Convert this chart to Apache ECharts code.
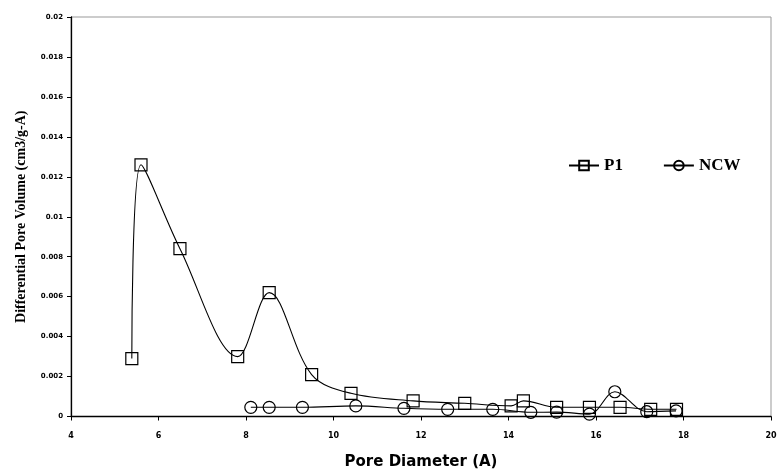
<!DOCTYPE html>
<html><head><meta charset="utf-8">
<script src="https://cdn.jsdelivr.net/npm/echarts@6/dist/echarts.min.js"></script>
<style>html,body{margin:0;padding:0;background:#fff}#c{width:783px;height:475px}</style>
</head><body><div id="c"></div>
<script>
const p1X = [5.39, 5.60, 6.49, 7.81, 8.53, 9.50, 10.40, 11.82, 13.00, 14.06, 14.34, 15.10, 15.85, 16.55, 17.25, 17.84];
const p1Y = [0.0029, 0.0126, 0.0084, 0.0030, 0.0062, 0.0021, 0.00116, 0.00078, 0.00066, 0.00053, 0.00078, 0.00046, 0.00046, 0.00046, 0.00036, 0.00036];
const ncwX = [8.11, 8.53, 9.29, 10.51, 11.61, 12.61, 13.64, 14.51, 15.10, 15.85, 16.43, 17.16, 17.83];
const ncwY = [0.00046, 0.00046, 0.00046, 0.00053, 0.00041, 0.00036, 0.00036, 0.00021, 0.00022, 0.00012, 0.00124, 0.00024, 0.00028];
const seriesNames = ['P1', 'NCW'];

const chart = echarts.init(document.getElementById('c'));
const zip = (xs, ys) => xs.map((x, i) => [x, ys[i]]);
const markerStyle = {color: 'rgba(255,255,255,0)', borderColor: '#000', borderWidth: 1.2};
chart.setOption({
  animation: false,
  grid: {left: 71, right: 12, top: 17, bottom: 58.5, show: true, borderColor: '#999', borderWidth: 1,
    containLabel: false, outerBoundsMode: 'none'},
  legend: {
    left: 563, top: 152, itemGap: 40, itemWidth: 30, itemHeight: 12,
    textStyle: {fontFamily: 'Liberation Serif', fontWeight: 'bold', fontSize: 17, color: '#000'},
    data: seriesNames
  },
  xAxis: {
    type: 'value', min: 4, max: 20, interval: 2,
    name: 'Pore Diameter (A)', nameLocation: 'middle', nameGap: 38,
    nameTextStyle: {fontFamily: 'DejaVu Sans', fontWeight: 'bold', fontSize: 15, color: '#000'},
    axisLine: {show: true, onZero: false, lineStyle: {color: '#000', width: 1.3}},
    axisTick: {show: true, length: 4, lineStyle: {color: '#000'}},
    axisLabel: {fontFamily: 'DejaVu Sans', fontWeight: 'bold', fontSize: 8, color: '#000', margin: 15},
    splitLine: {show: false}
  },
  yAxis: {
    type: 'value', min: 0, max: 0.02, interval: 0.002,
    name: 'Differential Pore Volume (cm3/g-A)', nameLocation: 'middle', nameGap: 43,
    nameTextStyle: {fontFamily: 'Liberation Serif', fontWeight: 'bold', fontSize: 14, color: '#000'},
    axisLine: {show: true, lineStyle: {color: '#000', width: 1.3}},
    axisTick: {show: true, length: 4, lineStyle: {color: '#000'}},
    axisLabel: {fontFamily: 'DejaVu Sans', fontWeight: 'bold', fontSize: 7, color: '#000', margin: 8,
      formatter: v => String(parseFloat(v.toFixed(4)))},
    splitLine: {show: false}
  },
  series: [
    {name: 'P1', type: 'line', smooth: 0.35, data: zip(p1X, p1Y),
      symbol: 'rect', symbolSize: 12, itemStyle: markerStyle,
      lineStyle: {color: '#000', width: 1.1}},
    {name: 'NCW', type: 'line', smooth: 0.35, data: zip(ncwX, ncwY),
      symbol: 'circle', symbolSize: 12, itemStyle: markerStyle,
      lineStyle: {color: '#000', width: 1.1}}
  ]
});
</script></body></html>
